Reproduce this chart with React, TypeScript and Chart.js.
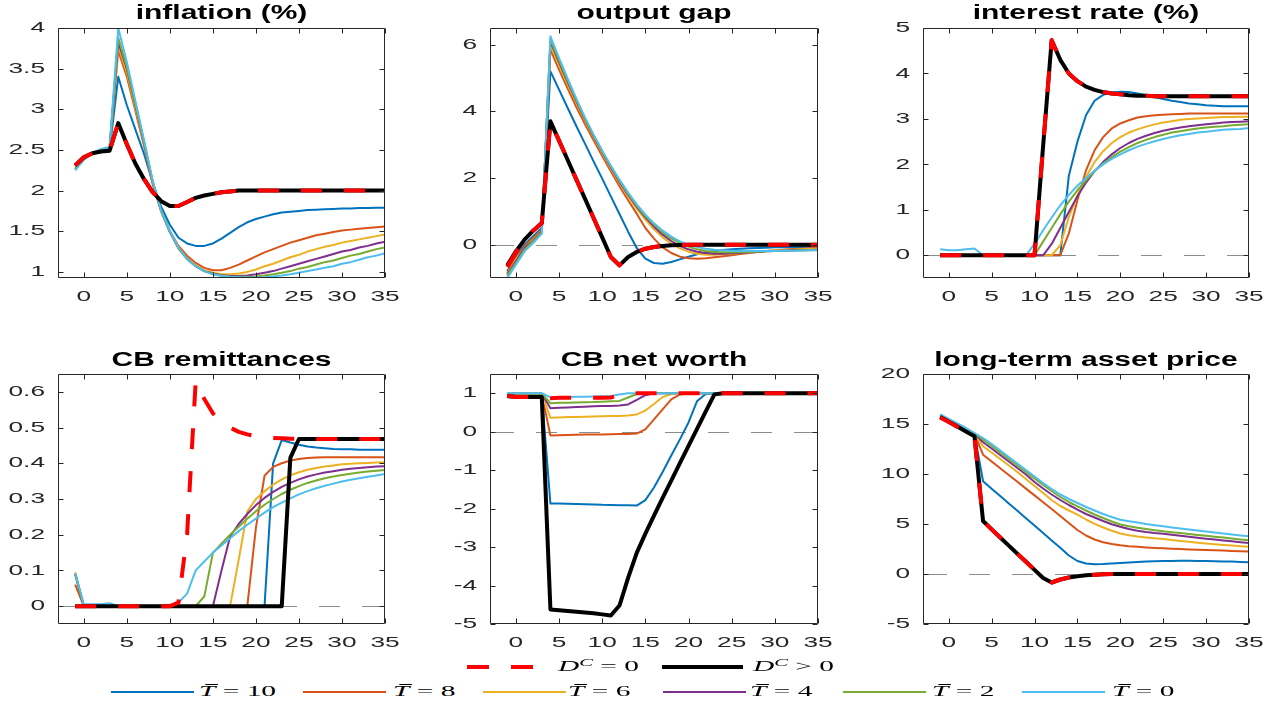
import React, { useEffect, useRef } from "react";
import { Chart, registerables } from "chart.js";

Chart.register(...registerables);

// ---------------- data ----------------
const periods = [-1, 0, 1, 2, 3, 4, 5, 6, 7, 8, 9, 10, 11, 12, 13, 14, 15, 16, 17, 18, 19, 20, 21, 22, 23, 24, 25, 26, 27, 28, 29, 30, 31, 32, 33, 34, 35];
const xTicks = [0, 5, 10, 15, 20, 25, 30, 35];

const seriesNames = ["D^C = 0", "D^C > 0", "Tbar = 0", "Tbar = 2", "Tbar = 4", "Tbar = 6", "Tbar = 8", "Tbar = 10"];
const legendRelations = ["= 0", "> 0"];
const legendHorizons = ["10", "8", "6", "4", "2", "0"];

const panelTitles = ["inflation (%)", "output gap", "interest rate (%)", "CB remittances", "CB net worth", "long-term asset price"];

// inflation (%)
const inflYTicks = [1, 1.5, 2, 2.5, 3, 3.5, 4];
const inflZero = [2.31, 2.41, 2.46, 2.48, 2.49, 2.83, 2.57, 2.33, 2.14, 1.98, 1.87, 1.81, 1.81, 1.86, 1.91, 1.94, 1.96, 1.98, 1.99, 2.0, 2.0, 2.0, 2.0, 2.0, 2.0, 2.0, 2.0, 2.0, 2.0, 2.0, 2.0, 2.0, 2.0, 2.0, 2.0, 2.0, 2.0];
const inflPos = [2.31, 2.41, 2.46, 2.48, 2.49, 2.83, 2.57, 2.33, 2.14, 1.98, 1.87, 1.81, 1.81, 1.86, 1.91, 1.94, 1.96, 1.98, 1.99, 2.0, 2.0, 2.0, 2.0, 2.0, 2.0, 2.0, 2.0, 2.0, 2.0, 2.0, 2.0, 2.0, 2.0, 2.0, 2.0, 2.0, 2.0];
const inflT10 = [2.30, 2.41, 2.46, 2.49, 2.50, 3.40, 3.05, 2.75, 2.45, 2.10, 1.80, 1.58, 1.42, 1.35, 1.32, 1.32, 1.35, 1.41, 1.48, 1.55, 1.61, 1.65, 1.68, 1.71, 1.73, 1.74, 1.75, 1.76, 1.765, 1.77, 1.775, 1.78, 1.78, 1.785, 1.785, 1.79, 1.79];
const inflT8 = [2.28, 2.40, 2.46, 2.50, 2.52, 3.72, 3.40, 2.98, 2.55, 2.08, 1.74, 1.50, 1.32, 1.20, 1.11, 1.05, 1.02, 1.02, 1.05, 1.09, 1.14, 1.19, 1.24, 1.28, 1.32, 1.36, 1.39, 1.42, 1.45, 1.47, 1.49, 1.51, 1.52, 1.53, 1.54, 1.55, 1.56];
const inflT6 = [2.27, 2.39, 2.46, 2.50, 2.52, 3.78, 3.45, 3.02, 2.58, 2.10, 1.74, 1.49, 1.30, 1.17, 1.08, 1.02, 0.99, 0.97, 0.97, 0.98, 1.00, 1.03, 1.07, 1.10, 1.14, 1.18, 1.21, 1.25, 1.28, 1.31, 1.33, 1.36, 1.38, 1.40, 1.42, 1.44, 1.46];
const inflT4 = [2.26, 2.39, 2.46, 2.50, 2.53, 3.83, 3.50, 3.05, 2.59, 2.11, 1.75, 1.49, 1.29, 1.16, 1.07, 1.01, 0.98, 0.96, 0.95, 0.95, 0.955, 0.97, 0.99, 1.01, 1.04, 1.07, 1.10, 1.13, 1.16, 1.19, 1.22, 1.25, 1.27, 1.30, 1.32, 1.35, 1.37];
const inflT2 = [2.26, 2.38, 2.46, 2.51, 2.53, 3.88, 3.52, 3.06, 2.60, 2.11, 1.75, 1.50, 1.29, 1.16, 1.07, 1.01, 0.975, 0.955, 0.945, 0.94, 0.94, 0.945, 0.955, 0.97, 0.99, 1.01, 1.04, 1.06, 1.09, 1.12, 1.14, 1.17, 1.20, 1.22, 1.25, 1.28, 1.30];
const inflT0 = [2.25, 2.38, 2.46, 2.51, 2.54, 4.00, 3.58, 3.10, 2.62, 2.12, 1.75, 1.50, 1.30, 1.16, 1.07, 1.01, 0.97, 0.95, 0.94, 0.935, 0.93, 0.93, 0.935, 0.945, 0.955, 0.97, 0.99, 1.01, 1.03, 1.05, 1.07, 1.10, 1.12, 1.15, 1.18, 1.20, 1.23];

// output gap
const ogYTicks = [0, 2, 4, 6];
const ogZero = [-0.67, -0.22, 0.14, 0.42, 0.65, 3.70, 3.12, 2.54, 1.96, 1.38, 0.80, 0.22, -0.37, -0.62, -0.37, -0.22, -0.12, -0.07, -0.04, -0.02, -0.01, 0, 0, 0, 0, 0, 0, 0, 0, 0, 0, 0, 0, 0, 0, 0, 0];
const ogPos = [-0.62, -0.20, 0.15, 0.42, 0.65, 3.70, 3.12, 2.54, 1.96, 1.38, 0.80, 0.22, -0.37, -0.62, -0.37, -0.22, -0.12, -0.07, -0.04, -0.02, -0.01, 0, 0, 0, 0, 0, 0, 0, 0, 0, 0, 0, 0, 0, 0, 0, 0];
const ogT10 = [-0.80, -0.35, 0.00, 0.25, 0.50, 5.20, 4.65, 4.10, 3.56, 3.03, 2.50, 1.98, 1.45, 0.92, 0.39, -0.10, -0.42, -0.55, -0.57, -0.52, -0.44, -0.36, -0.29, -0.23, -0.19, -0.16, -0.14, -0.12, -0.11, -0.10, -0.09, -0.08, -0.08, -0.07, -0.07, -0.06, -0.06];
const ogT8 = [-0.85, -0.40, -0.05, 0.20, 0.45, 5.85, 5.25, 4.68, 4.13, 3.62, 3.13, 2.66, 2.20, 1.75, 1.33, 0.93, 0.50, 0.18, -0.08, -0.25, -0.36, -0.41, -0.42, -0.41, -0.38, -0.35, -0.32, -0.28, -0.25, -0.22, -0.19, -0.17, -0.15, -0.13, -0.12, -0.11, -0.10];
const ogT6 = [-0.88, -0.45, -0.10, 0.15, 0.42, 6.00, 5.38, 4.80, 4.25, 3.72, 3.22, 2.74, 2.28, 1.85, 1.45, 1.08, 0.75, 0.46, 0.22, 0.03, -0.11, -0.21, -0.27, -0.30, -0.30, -0.29, -0.27, -0.25, -0.23, -0.21, -0.19, -0.17, -0.16, -0.15, -0.14, -0.13, -0.12];
const ogT4 = [-0.90, -0.50, -0.10, 0.12, 0.40, 6.10, 5.48, 4.88, 4.30, 3.76, 3.26, 2.78, 2.32, 1.89, 1.50, 1.14, 0.82, 0.54, 0.30, 0.11, -0.04, -0.14, -0.21, -0.25, -0.27, -0.27, -0.26, -0.25, -0.23, -0.22, -0.20, -0.19, -0.18, -0.17, -0.16, -0.16, -0.15];
const ogT2 = [-0.93, -0.55, -0.15, 0.10, 0.37, 6.15, 5.53, 4.92, 4.33, 3.78, 3.28, 2.80, 2.35, 1.92, 1.53, 1.17, 0.86, 0.60, 0.37, 0.19, 0.05, -0.06, -0.14, -0.19, -0.22, -0.23, -0.23, -0.23, -0.22, -0.21, -0.20, -0.19, -0.18, -0.18, -0.17, -0.17, -0.16];
const ogT0 = [-1.00, -0.60, -0.20, 0.05, 0.33, 6.25, 5.60, 4.98, 4.38, 3.82, 3.30, 2.82, 2.37, 1.95, 1.56, 1.21, 0.90, 0.64, 0.42, 0.24, 0.10, 0.00, -0.07, -0.12, -0.15, -0.17, -0.18, -0.19, -0.19, -0.19, -0.19, -0.19, -0.18, -0.18, -0.18, -0.17, -0.17];

// interest rate (%)
const irYTicks = [0, 1, 2, 3, 4, 5];
const irZero = [0, 0, 0, 0, 0, 0, 0, 0, 0, 0, 0, 0, 2.40, 4.73, 4.30, 4.00, 3.83, 3.71, 3.64, 3.59, 3.56, 3.54, 3.52, 3.51, 3.51, 3.50, 3.50, 3.50, 3.50, 3.50, 3.50, 3.50, 3.50, 3.50, 3.50, 3.50, 3.50];
const irPos = [0, 0, 0, 0, 0, 0, 0, 0, 0, 0, 0, 0, 2.40, 4.73, 4.30, 4.00, 3.83, 3.71, 3.64, 3.59, 3.56, 3.54, 3.52, 3.51, 3.51, 3.50, 3.50, 3.50, 3.50, 3.50, 3.50, 3.50, 3.50, 3.50, 3.50, 3.50, 3.50];
const irT10 = [0, 0, 0, 0, 0, 0, 0, 0, 0, 0, 0, 0, 0, 0, 0, 1.75, 2.50, 3.08, 3.40, 3.53, 3.58, 3.60, 3.59, 3.56, 3.52, 3.48, 3.44, 3.40, 3.37, 3.34, 3.32, 3.30, 3.29, 3.28, 3.28, 3.28, 3.28];
const irT8 = [0, 0, 0, 0, 0, 0, 0, 0, 0, 0, 0, 0, 0, 0, 0, 0.48, 1.21, 1.87, 2.31, 2.60, 2.79, 2.90, 2.97, 3.03, 3.06, 3.08, 3.09, 3.10, 3.11, 3.12, 3.12, 3.12, 3.12, 3.12, 3.12, 3.12, 3.12];
const irT6 = [0, 0, 0, 0, 0, 0, 0, 0, 0, 0, 0, 0, 0, 0, 0.22, 0.84, 1.32, 1.72, 2.05, 2.29, 2.47, 2.60, 2.70, 2.77, 2.83, 2.88, 2.92, 2.95, 2.98, 3.00, 3.01, 3.02, 3.03, 3.04, 3.04, 3.05, 3.05];
const irT4 = [0, 0, 0, 0, 0, 0, 0, 0, 0, 0, 0, 0, 0, 0.25, 0.60, 0.95, 1.30, 1.60, 1.85, 2.05, 2.22, 2.36, 2.47, 2.56, 2.63, 2.69, 2.74, 2.78, 2.81, 2.84, 2.86, 2.88, 2.90, 2.92, 2.93, 2.94, 2.95];
const irT2 = [0, 0, 0, 0, 0, 0, 0, 0, 0, 0, 0, 0, 0.30, 0.60, 0.90, 1.18, 1.43, 1.65, 1.85, 2.02, 2.16, 2.28, 2.38, 2.47, 2.54, 2.60, 2.65, 2.70, 2.73, 2.76, 2.79, 2.81, 2.83, 2.84, 2.86, 2.87, 2.88];
const irT0 = [0.13, 0.11, 0.11, 0.13, 0.15, 0, 0, 0, 0, 0, 0, 0.25, 0.55, 0.83, 1.10, 1.33, 1.53, 1.70, 1.86, 2.00, 2.12, 2.22, 2.31, 2.39, 2.45, 2.51, 2.56, 2.60, 2.64, 2.67, 2.70, 2.72, 2.74, 2.76, 2.77, 2.78, 2.80];

// CB remittances
const remYTicks = [0, 0.1, 0.2, 0.3, 0.4, 0.5, 0.6];
const remZero = [0, 0, 0, 0, 0, 0, 0, 0, 0, 0, 0, 0, 0.01, 0.20, 0.63, 0.58, 0.54, 0.515, 0.50, 0.488, 0.481, 0.476, 0.473, 0.471, 0.470, 0.469, 0.468, 0.468, 0.468, 0.468, 0.468, 0.468, 0.468, 0.468, 0.468, 0.468, 0.468];
const remPos = [0, 0, 0, 0, 0, 0, 0, 0, 0, 0, 0, 0, 0, 0, 0, 0, 0, 0, 0, 0, 0, 0, 0, 0, 0, 0.415, 0.468, 0.468, 0.468, 0.468, 0.468, 0.468, 0.468, 0.468, 0.468, 0.468, 0.468];
const remT10 = [0.09, 0, 0, 0, 0, 0, 0, 0, 0, 0, 0, 0, 0, 0, 0, 0, 0, 0, 0, 0, 0, 0, 0, 0.40, 0.465, 0.458, 0.452, 0.447, 0.444, 0.442, 0.440, 0.439, 0.439, 0.438, 0.438, 0.438, 0.438];
const remT8 = [0.06, 0, 0, 0, 0, 0, 0, 0, 0, 0, 0, 0, 0, 0, 0, 0, 0, 0, 0, 0, 0, 0.22, 0.365, 0.39, 0.40, 0.408, 0.412, 0.415, 0.416, 0.417, 0.417, 0.417, 0.417, 0.417, 0.417, 0.417, 0.417];
const remT6 = [0.095, 0, 0, 0, 0, 0, 0, 0, 0, 0, 0, 0, 0, 0, 0, 0, 0, 0, 0, 0.13, 0.265, 0.30, 0.322, 0.34, 0.355, 0.366, 0.375, 0.382, 0.387, 0.391, 0.394, 0.397, 0.399, 0.40, 0.401, 0.402, 0.403];
const remT4 = [0.09, 0, 0, 0, 0, 0, 0, 0, 0, 0, 0, 0, 0, 0, 0, 0, 0, 0.10, 0.195, 0.23, 0.258, 0.283, 0.303, 0.32, 0.334, 0.345, 0.355, 0.363, 0.369, 0.374, 0.378, 0.382, 0.385, 0.387, 0.389, 0.391, 0.392];
const remT2 = [0.09, 0, 0, 0, 0, 0, 0, 0, 0, 0, 0, 0, 0, 0, 0, 0.027, 0.149, 0.175, 0.20, 0.222, 0.245, 0.266, 0.284, 0.30, 0.314, 0.326, 0.336, 0.345, 0.352, 0.358, 0.363, 0.367, 0.371, 0.374, 0.377, 0.379, 0.381];
const remT0 = [0.092, 0.005, 0.005, 0.005, 0.008, 0, 0, 0, 0, 0, 0, 0, 0.01, 0.035, 0.10, 0.125, 0.15, 0.17, 0.19, 0.21, 0.228, 0.245, 0.262, 0.277, 0.29, 0.302, 0.313, 0.322, 0.33, 0.337, 0.343, 0.349, 0.354, 0.358, 0.362, 0.366, 0.37];

// CB net worth
const nwYTicks = [-5, -4, -3, -2, -1, 0, 1];
const nwZero = [0.93, 0.90, 0.90, 0.90, 0.90, 0.87, 0.88, 0.88, 0.88, 0.88, 0.88, 0.88, 0.89, 0.95, 1, 1, 1, 1, 1, 1, 1, 1, 1, 1, 1, 1, 1, 1, 1, 1, 1, 1, 1, 1, 1, 1, 1];
const nwPos = [0.93, 0.90, 0.90, 0.90, 0.90, -4.62, -4.64, -4.66, -4.68, -4.70, -4.72, -4.75, -4.78, -4.52, -3.80, -3.15, -2.65, -2.18, -1.72, -1.27, -0.82, -0.37, 0.08, 0.53, 0.97, 1, 1, 1, 1, 1, 1, 1, 1, 1, 1, 1, 1];
const nwT10 = [0.98, 0.98, 0.98, 0.98, 0.98, -1.87, -1.87, -1.875, -1.88, -1.885, -1.89, -1.90, -1.905, -1.91, -1.915, -1.92, -1.78, -1.45, -1.05, -0.62, -0.20, 0.24, 0.80, 0.98, 1, 1, 1, 1, 1, 1, 1, 1, 1, 1, 1, 1, 1];
const nwT8 = [0.97, 0.97, 0.97, 0.97, 0.97, -0.10, -0.09, -0.085, -0.08, -0.075, -0.07, -0.07, -0.065, -0.06, -0.06, -0.05, 0.06, 0.32, 0.58, 0.84, 0.97, 1, 1, 1, 1, 1, 1, 1, 1, 1, 1, 1, 1, 1, 1, 1, 1];
const nwT6 = [0.98, 0.98, 0.98, 0.98, 0.98, 0.36, 0.37, 0.38, 0.385, 0.39, 0.395, 0.40, 0.405, 0.41, 0.42, 0.45, 0.55, 0.72, 0.90, 0.98, 1, 1, 1, 1, 1, 1, 1, 1, 1, 1, 1, 1, 1, 1, 1, 1, 1];
const nwT4 = [0.99, 0.99, 0.99, 0.99, 0.99, 0.61, 0.62, 0.63, 0.64, 0.65, 0.66, 0.665, 0.67, 0.68, 0.71, 0.83, 0.95, 1, 1, 1, 1, 1, 1, 1, 1, 1, 1, 1, 1, 1, 1, 1, 1, 1, 1, 1, 1];
const nwT2 = [0.99, 0.99, 0.99, 0.99, 0.99, 0.74, 0.75, 0.755, 0.76, 0.765, 0.77, 0.78, 0.79, 0.80, 0.89, 0.98, 1, 1, 1, 1, 1, 1, 1, 1, 1, 1, 1, 1, 1, 1, 1, 1, 1, 1, 1, 1, 1];
const nwT0 = [1, 1, 1, 1, 1, 0.89, 0.90, 0.905, 0.91, 0.91, 0.915, 0.92, 0.92, 0.97, 1, 1, 1, 1, 1, 1, 1, 1, 1, 1, 1, 1, 1, 1, 1, 1, 1, 1, 1, 1, 1, 1, 1];

// long-term asset price
const apYTicks = [-5, 0, 5, 10, 15, 20];
const apZero = [15.65, 15.20, 14.72, 14.25, 13.78, 5.30, 4.46, 3.65, 2.84, 2.03, 1.22, 0.41, -0.40, -0.85, -0.55, -0.35, -0.22, -0.13, -0.07, -0.03, -0.01, 0, 0, 0, 0, 0, 0, 0, 0, 0, 0, 0, 0, 0, 0, 0, 0];
const apPos = [15.70, 15.22, 14.74, 14.26, 13.78, 5.30, 4.46, 3.65, 2.84, 2.03, 1.22, 0.41, -0.40, -0.85, -0.55, -0.35, -0.22, -0.13, -0.07, -0.03, -0.01, 0, 0, 0, 0, 0, 0, 0, 0, 0, 0, 0, 0, 0, 0, 0, 0];
const apT10 = [15.85, 15.40, 14.95, 14.50, 14.00, 9.27, 8.53, 7.80, 7.06, 6.32, 5.58, 4.84, 4.10, 3.36, 2.62, 1.85, 1.30, 1.05, 0.98, 1.00, 1.05, 1.10, 1.15, 1.20, 1.24, 1.27, 1.30, 1.31, 1.32, 1.32, 1.31, 1.30, 1.28, 1.26, 1.24, 1.21, 1.18];
const apT8 = [15.85, 15.40, 14.95, 14.50, 14.00, 11.93, 11.25, 10.57, 9.90, 9.22, 8.54, 7.86, 7.18, 6.50, 5.80, 5.10, 4.40, 3.85, 3.45, 3.18, 3.00, 2.88, 2.78, 2.72, 2.66, 2.61, 2.57, 2.53, 2.49, 2.46, 2.43, 2.40, 2.37, 2.34, 2.31, 2.28, 2.25];
const apT6 = [15.88, 15.42, 14.97, 14.52, 14.02, 12.77, 12.15, 11.50, 10.85, 10.20, 9.50, 8.80, 8.10, 7.40, 6.80, 6.35, 5.93, 5.45, 5.02, 4.65, 4.32, 4.05, 3.88, 3.76, 3.66, 3.57, 3.50, 3.40, 3.31, 3.22, 3.13, 3.05, 2.98, 2.91, 2.84, 2.78, 2.72];
const apT4 = [15.90, 15.45, 15.00, 14.55, 14.05, 13.17, 12.55, 11.90, 11.25, 10.60, 9.95, 9.20, 8.55, 7.95, 7.40, 6.90, 6.43, 6.00, 5.65, 5.30, 4.98, 4.72, 4.50, 4.33, 4.20, 4.10, 4.02, 3.92, 3.82, 3.72, 3.62, 3.53, 3.44, 3.35, 3.27, 3.18, 3.10];
const apT2 = [15.92, 15.47, 15.02, 14.57, 14.07, 13.43, 12.80, 12.15, 11.50, 10.85, 10.20, 9.55, 8.90, 8.30, 7.70, 7.20, 6.77, 6.35, 5.95, 5.60, 5.25, 4.95, 4.78, 4.63, 4.50, 4.38, 4.27, 4.18, 4.09, 4.00, 3.91, 3.82, 3.73, 3.64, 3.55, 3.46, 3.37];
const apT0 = [15.95, 15.50, 15.05, 14.60, 14.10, 13.60, 13.00, 12.35, 11.70, 11.05, 10.40, 9.75, 9.10, 8.50, 7.95, 7.50, 7.10, 6.70, 6.35, 6.00, 5.70, 5.43, 5.28, 5.14, 5.00, 4.88, 4.77, 4.66, 4.55, 4.45, 4.35, 4.25, 4.15, 4.05, 3.95, 3.86, 3.77];

// ---------------- styles ----------------
const seriesStyles = [
  { color: "#FF0000", width: 4, dash: [21, 22], order: 0 },
  { color: "#000000", width: 4, dash: [] as number[], order: 1 },
  { color: "#4DBEEE", width: 2, dash: [] as number[], order: 2 },
  { color: "#77AC30", width: 2, dash: [] as number[], order: 3 },
  { color: "#7E2F8E", width: 2, dash: [] as number[], order: 4 },
  { color: "#EDB120", width: 2, dash: [] as number[], order: 5 },
  { color: "#D95319", width: 2, dash: [] as number[], order: 6 },
  { color: "#0072BD", width: 2, dash: [] as number[], order: 7 },
];
const legendColors = ["#0072BD", "#D95319", "#EDB120", "#7E2F8E", "#77AC30", "#4DBEEE"];

const TICK_STRETCH = 1.75;
const TITLE_STRETCH = 1.5;
const LEGEND_STRETCH = 2.1;
const AXIS_COLOR = "#262626";

type PanelDef = {
  title: string;
  yMin: number;
  yMax: number;
  yTicks: number[];
  series: number[][];
  x: number;
  y: number;
  w: number;
  h: number;
  yAxisW: number;
  padRight: number;
  titleTop: number;
  titleBottom: number;
  xAxisH: number;
};

const cols = [
  { x: 0, w: 410, yAxisW: 58, padRight: 25 },
  { x: 425, w: 415, yAxisW: 65, padRight: 22 },
  { x: 850, w: 426, yAxisW: 73, padRight: 27 },
];
const rows = [
  { y: 0, h: 320, titleTop: 1.5, titleBottom: 2.5, xAxisH: 42 },
  { y: 330, h: 335, titleTop: 18.5, titleBottom: 1.5, xAxisH: 41 },
];

const panelData = [
  { yMin: 0.925, yMax: 4, yTicks: inflYTicks, series: [inflZero, inflPos, inflT0, inflT2, inflT4, inflT6, inflT8, inflT10] },
  { yMin: -1, yMax: 6.5, yTicks: ogYTicks, series: [ogZero, ogPos, ogT0, ogT2, ogT4, ogT6, ogT8, ogT10] },
  { yMin: -0.5, yMax: 5, yTicks: irYTicks, series: [irZero, irPos, irT0, irT2, irT4, irT6, irT8, irT10] },
  { yMin: -0.05, yMax: 0.65, yTicks: remYTicks, series: [remZero, remPos, remT0, remT2, remT4, remT6, remT8, remT10] },
  { yMin: -5, yMax: 1.5, yTicks: nwYTicks, series: [nwZero, nwPos, nwT0, nwT2, nwT4, nwT6, nwT8, nwT10] },
  { yMin: -5, yMax: 20, yTicks: apYTicks, series: [apZero, apPos, apT0, apT2, apT4, apT6, apT8, apT10] },
];

const panels: PanelDef[] = panelData.map((d, i) => {
  const c = cols[i % 3];
  const r = rows[Math.floor(i / 3)];
  return { title: panelTitles[i], ...d, ...c, ...r } as PanelDef;
});

// ---------------- plugins ----------------
const stretchTextPlugin = {
  id: "stretchText",
  beforeInit(chart: any) {
    const ctx = chart.ctx as any;
    if (ctx.__stretched) return;
    ctx.__stretched = true;
    const orig = ctx.fillText;
    ctx.fillText = function (text: string, x: number, y: number, maxWidth?: number) {
      const sx = /bold/.test(ctx.font) ? TITLE_STRETCH : TICK_STRETCH;
      ctx.save();
      ctx.translate(x, y);
      ctx.scale(sx, 1);
      if (maxWidth === undefined || maxWidth === null) orig.call(ctx, text, 0, 0);
      else orig.call(ctx, text, 0, 0, maxWidth / sx);
      ctx.restore();
    };
  },
};

const framePlugin = {
  id: "matlabFrame",
  beforeDatasetsDraw(chart: any) {
    const { ctx, chartArea: a, scales } = chart;
    const ys = scales.y;
    if (ys.min < 0 && ys.max > 0) {
      const py = Math.round(ys.getPixelForValue(0)) + 0.5;
      ctx.save();
      ctx.strokeStyle = "#8c8c8c";
      ctx.lineWidth = 1;
      ctx.setLineDash([21, 22]);
      ctx.lineDashOffset = -3;
      ctx.beginPath();
      ctx.moveTo(a.left, py);
      ctx.lineTo(a.right, py);
      ctx.stroke();
      ctx.restore();
    }
  },
  afterDatasetsDraw(chart: any) {
    const { ctx, chartArea: a, scales } = chart;
    const L = Math.round(a.left) + 0.5;
    const R = Math.round(a.right) - 0.5;
    const T = Math.round(a.top) + 0.5;
    const B = Math.round(a.bottom) - 0.5;
    const tl = 5;
    ctx.save();
    ctx.strokeStyle = AXIS_COLOR;
    ctx.lineWidth = 1;
    ctx.setLineDash([]);
    ctx.beginPath();
    ctx.rect(L, T, R - L, B - T);
    scales.x.ticks.forEach((t: any) => {
      const px = Math.round(scales.x.getPixelForValue(t.value)) + 0.5;
      ctx.moveTo(px, B);
      ctx.lineTo(px, B - tl);
      ctx.moveTo(px, T);
      ctx.lineTo(px, T + tl);
    });
    scales.y.ticks.forEach((t: any) => {
      const py = Math.round(scales.y.getPixelForValue(t.value)) + 0.5;
      ctx.moveTo(L, py);
      ctx.lineTo(L + tl, py);
      ctx.moveTo(R, py);
      ctx.lineTo(R - tl, py);
    });
    ctx.stroke();
    ctx.restore();
  },
};

const tickFont = { family: "'Liberation Sans', Arial, sans-serif", size: 15 };

function buildConfig(p: PanelDef): any {
  return {
    type: "line",
    data: {
      datasets: p.series.map((vals, k) => ({
        label: seriesNames[k],
        data: vals.map((v, i) => ({ x: periods[i], y: v })),
        borderColor: seriesStyles[k].color,
        backgroundColor: seriesStyles[k].color,
        borderWidth: seriesStyles[k].width,
        borderDash: seriesStyles[k].dash,
        order: seriesStyles[k].order,
        pointRadius: 0,
        fill: false,
        tension: 0,
        borderJoinStyle: "round",
      })),
    },
    options: {
      animation: false,
      responsive: false,
      maintainAspectRatio: false,
      devicePixelRatio: 1,
      events: [],
      layout: { padding: { left: 0, right: p.padRight, top: 0, bottom: 0 } },
      plugins: {
        legend: { display: false },
        tooltip: { enabled: false },
        title: {
          display: true,
          text: p.title,
          fullSize: false,
          color: "#000000",
          font: { family: "'Liberation Sans', Arial, sans-serif", size: 20, weight: "bold", lineHeight: 1.2 },
          padding: { top: p.titleTop, bottom: p.titleBottom },
        },
      },
      scales: {
        x: {
          type: "linear",
          min: -3,
          max: 35,
          afterBuildTicks: (s: any) => {
            s.ticks = xTicks.map((v) => ({ value: v }));
          },
          afterFit: (s: any) => {
            s.height = p.xAxisH;
          },
          grid: { display: false, drawTicks: false },
          border: { display: false },
          ticks: {
            font: tickFont,
            color: AXIS_COLOR,
            padding: 10,
            maxRotation: 0,
            autoSkip: false,
            callback: (v: number) => String(v),
          },
        },
        y: {
          type: "linear",
          min: p.yMin,
          max: p.yMax,
          afterBuildTicks: (s: any) => {
            s.ticks = p.yTicks.map((v) => ({ value: v }));
          },
          afterFit: (s: any) => {
            s.width = p.yAxisW;
          },
          grid: { display: false, drawTicks: false },
          border: { display: false },
          ticks: {
            font: tickFont,
            color: AXIS_COLOR,
            padding: 13,
            autoSkip: false,
            callback: (v: number) => String(v),
          },
        },
      },
    },
    plugins: [stretchTextPlugin, framePlugin],
  };
}

function Panel({ p }: { p: PanelDef }) {
  const ref = useRef<HTMLCanvasElement>(null);
  useEffect(() => {
    const chart = new Chart(ref.current as HTMLCanvasElement, buildConfig(p));
    return () => chart.destroy();
  }, [p]);
  return (
    <canvas
      ref={ref}
      width={p.w}
      height={p.h}
      style={{ position: "absolute", left: p.x, top: p.y, width: p.w, height: p.h }}
    />
  );
}

// ---------------- legend ----------------
const legendTextStyle = (left: number, cy: number): React.CSSProperties => ({
  position: "absolute",
  left,
  top: cy - 9,
  height: 18,
  lineHeight: "18px",
  fontFamily: "'Liberation Serif', 'Times New Roman', serif",
  fontSize: 14,
  color: "#000",
  whiteSpace: "nowrap",
  transform: `scaleX(${LEGEND_STRETCH})`,
  transformOrigin: "left center",
});

const bar = (left: number, cy: number, width: number, height: number, color: string): React.CSSProperties => ({
  position: "absolute",
  left,
  top: cy - height / 2,
  width,
  height,
  background: color,
});

const supStyle: React.CSSProperties = { fontSize: "0.7em", position: "relative", top: "-0.55em" };
const barTStyle: React.CSSProperties = { position: "relative", display: "inline-block" };
const macronStyle: React.CSSProperties = {
  position: "absolute",
  left: 2.5,
  right: -1.5,
  top: 0.5,
  height: 1,
  background: "#000",
};

function Legend() {
  const row1 = 667;
  const row2 = 692;
  const row2Lines = [111, 303, 483, 663, 843, 1022];
  const row2Texts = [199, 393, 568, 750, 932, 1112];
  return (
    <>
      <div style={bar(467, row1, 22, 4, "#FF0000")} />
      <div style={bar(511, row1, 22, 4, "#FF0000")} />
      <span style={legendTextStyle(558, row1)}>
        <i>D</i>
        <i style={supStyle}>C</i>
        {" " + legendRelations[0]}
      </span>
      <div style={bar(662, row1, 81, 4, "#000000")} />
      <span style={legendTextStyle(753, row1)}>
        <i>D</i>
        <i style={supStyle}>C</i>
        {" " + legendRelations[1]}
      </span>
      {legendHorizons.map((h, i) => (
        <React.Fragment key={h}>
          <div style={bar(row2Lines[i], row2, 83, 2, legendColors[i])} />
          <span style={legendTextStyle(row2Texts[i], row2)}>
            <i style={barTStyle}>
              T<span style={macronStyle} />
            </i>
            {" = " + h}
          </span>
        </React.Fragment>
      ))}
    </>
  );
}

export default function App() {
  return (
    <div style={{ position: "absolute", left: 0, top: 0, width: 1276, height: 705, background: "#ffffff", overflow: "hidden" }}>
      {panels.map((p) => (
        <Panel key={p.title} p={p} />
      ))}
      <Legend />
    </div>
  );
}
